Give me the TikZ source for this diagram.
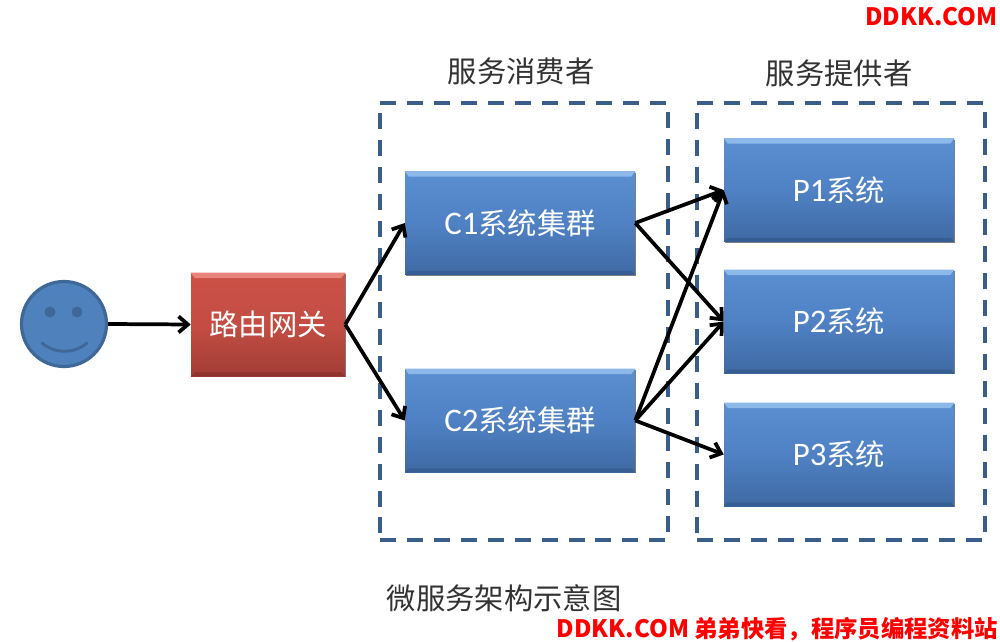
\documentclass[tikz,border=0pt]{standalone}
\usepackage{fontspec}
\setmainfont{Noto Sans CJK SC}
\newfontfamily\latinf[Scale=1.12]{Carlito}
\usetikzlibrary{arrows.meta,shadows}
\newcommand{\boxtext}[2]{\raisebox{1.2pt}{{\latinf #1}#2}}
\tikzset{
  x=0.75pt,y=-0.75pt,
  box/.style n args={5}{rectangle,minimum width=#1*0.75pt,minimum height=#2*0.75pt,inner sep=0pt,text=white,font=\fontsize{22}{24}\selectfont,
    top color=#3,bottom color=#4,middle color=#5,
    drop shadow={shadow xshift=0.8pt,shadow yshift=-1pt,opacity=0.5,fill=black}},
  conn/.style={line width=2.8pt,-{Straight Barb[length=7pt,width=12pt]},line join=round,black},
  group/.style={draw=dashc,line width=2.6pt,dash pattern=on 12pt off 8.2pt},
  caption/.style={font=\fontsize{22}{24}\selectfont,text=textc,inner sep=0pt},
  mark text/.style={font=\fontsize{17.5}{20}\selectfont\bfseries,text=red,inner sep=0pt},
  bluebox/.style={box={230}{103}{bluetop}{bluebot}{bluemid}}
}
\definecolor{dashc}{HTML}{3A5D8A}
\definecolor{textc}{HTML}{333333}
\definecolor{bluetop}{HTML}{5A8FD2}
\definecolor{bluemid}{HTML}{4F81C4}
\definecolor{bluebot}{HTML}{3F6AA3}
\definecolor{bluelight}{HTML}{8DB8EA}
\definecolor{bluedark}{HTML}{2F5486}
\definecolor{redtop}{HTML}{CC5147}
\definecolor{redmid}{HTML}{C34D43}
\definecolor{redbot}{HTML}{A23D36}
\definecolor{redlight}{HTML}{E8847B}
\definecolor{reddark}{HTML}{7F2A25}
\definecolor{facefill}{HTML}{4F81BD}
\definecolor{faceline}{HTML}{3F6797}
\begin{document}
\begin{tikzpicture}
\useasboundingbox (0,0) rectangle (1000,642);
\fill[white] (0,0) rectangle (1000,642);
% groups
\node[inner sep=0pt,minimum width=288*0.75pt,minimum height=437*0.75pt,group] (g1) at (524,321.5) {};
\node[inner sep=0pt,minimum width=288*0.75pt,minimum height=437*0.75pt,group] (g2) at (841,321.5) {};
% face
\node[circle,fill=facefill,draw=faceline,line width=2.4pt,minimum size=85*0.75pt,inner sep=0pt] (face) at (64,324) {};
\fill[faceline] (50,312) circle (5.5);
\fill[faceline] (77,312) circle (5.5);
\draw[faceline,line width=2.2pt,line cap=round] (42,343) .. controls (55,354) and (74,354) .. (87,343);
% boxes
\node[box={154}{103}{redtop}{redbot}{redmid}] (r) at (268,324.5) {\raisebox{1.2pt}{路由网关}};
\node[bluebox] (c1) at (520,223) {\boxtext{C1}{系统集群}};
\node[bluebox] (c2) at (520,420.5) {\boxtext{C2}{系统集群}};
\node[bluebox] (p1) at (839,190) {\boxtext{P1}{系统}};
\node[bluebox] (p2) at (839,321.5) {\boxtext{P2}{系统}};
\node[bluebox] (p3) at (839,454.5) {\boxtext{P3}{系统}};
% bevels
\foreach \n in {c1,c2,p1,p2,p3}{
  \fill[bluelight] (\n.north west) -- (\n.north east) -- ([xshift=-3pt,yshift=-4pt]\n.north east) -- ([xshift=3pt,yshift=-4pt]\n.north west) -- cycle;
  \fill[bluedark,opacity=.55] (\n.south west) -- (\n.south east) -- ([xshift=-3pt,yshift=3pt]\n.south east) -- ([xshift=3pt,yshift=3pt]\n.south west) -- cycle;
}
\fill[redlight] (r.north west) -- (r.north east) -- ([xshift=-3pt,yshift=-4pt]r.north east) -- ([xshift=3pt,yshift=-4pt]r.north west) -- cycle;
\fill[reddark,opacity=.55] (r.south west) -- (r.south east) -- ([xshift=-3pt,yshift=3pt]r.south east) -- ([xshift=3pt,yshift=3pt]r.south west) -- cycle;
% connectors
\draw[conn] (face.east) -- (r.west);
\draw[conn] (r.east) -- (c1.west);
\draw[conn] (r.east) -- (c2.west);
\draw[conn] (c1.east) -- (p1.west);
\draw[conn] (c1.east) -- (p2.west);
\draw[conn] (c2.east) -- (p1.west);
\draw[conn] (c2.east) -- (p2.west);
\draw[conn] (c2.east) -- (p3.west);
% labels
\node[caption] (t1) at (521,71) {服务消费者};
\node[caption] (t2) at (839,73) {服务提供者};
\node[caption] (t3) at (504,598) {微服务架构示意图};
\node[mark text,font=\fontsize{18}{20}\selectfont\bfseries,anchor=east] (w1) at (998,17) {DDKK.COM};
\node[mark text,anchor=east] (w2) at (998,629) {{\fontsize{18}{20}\selectfont DDKK.COM} 弟弟快看，程序员编程资料站};
\end{tikzpicture}
\end{document}
